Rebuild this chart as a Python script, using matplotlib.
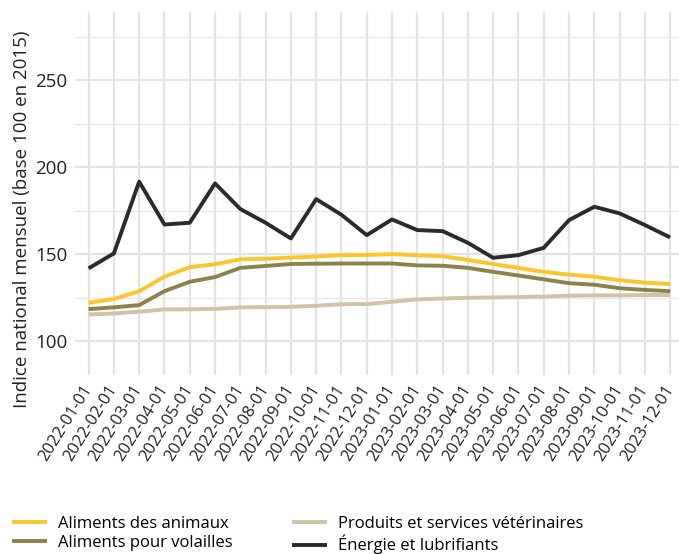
import numpy as np
import matplotlib
matplotlib.use("Agg")
import matplotlib.pyplot as plt

plt.rcParams['font.family'] = ['Open Sans', 'DejaVu Sans']

mois = ['2022-01-01', '2022-02-01', '2022-03-01', '2022-04-01', '2022-05-01', '2022-06-01',
        '2022-07-01', '2022-08-01', '2022-09-01', '2022-10-01', '2022-11-01', '2022-12-01',
        '2023-01-01', '2023-02-01', '2023-03-01', '2023-04-01', '2023-05-01', '2023-06-01',
        '2023-07-01', '2023-08-01', '2023-09-01', '2023-10-01', '2023-11-01', '2023-12-01']

aliments_animaux = [122.0, 124.2, 128.7, 137.0, 142.5, 144.2, 147.0, 147.3, 148.0, 148.6, 149.4, 149.5,
                    150.0, 149.3, 148.8, 146.6, 144.3, 142.0, 139.8, 138.2, 137.0, 135.0, 133.6, 132.8]
aliments_volailles = [118.4, 119.4, 120.7, 128.7, 134.1, 136.8, 142.1, 143.2, 144.3, 144.5, 144.6, 144.6,
                      144.6, 143.5, 143.3, 142.1, 139.8, 137.7, 135.5, 133.3, 132.4, 130.4, 129.4, 128.7]
veterinaires = [115.3, 115.9, 116.9, 118.2, 118.3, 118.5, 119.4, 119.5, 119.7, 120.3, 121.2, 121.3,
                122.6, 124.0, 124.5, 124.9, 125.1, 125.3, 125.6, 126.1, 126.3, 126.3, 126.5, 126.5]
energie = [141.8, 150.4, 191.6, 167.0, 168.0, 190.6, 175.9, 168.0, 159.0, 181.6, 172.6, 160.9,
           169.9, 163.8, 163.2, 156.5, 147.9, 149.4, 153.6, 169.5, 177.2, 173.4, 166.7, 159.6]

series = [
    ('Aliments des animaux', aliments_animaux, '#FBC52B'),
    ('Aliments pour volailles', aliments_volailles, '#8C824C'),
    ('Produits et services vétérinaires', veterinaires, '#D1C2A8'),
    ('Énergie et lubrifiants', energie, '#2B2B2D'),
]

fig = plt.figure(figsize=(6.79, 5.54), dpi=100)
ax = fig.add_axes([0.110, 0.323, 0.890, 0.655])

x = np.arange(len(mois))
for nom, vals, couleur in series:
    ax.plot(x, vals, color=couleur, lw=2.8, label=nom, solid_capstyle='butt', zorder=3)

ax.set_xlim(-0.55, 23.35)
ax.set_ylim(80.5, 289)
ax.set_xticks(x)
ax.set_xticklabels(mois, rotation=58, ha='right', va='center', rotation_mode='anchor',
                   fontsize=12, color='#222222')
ax.set_yticks([100, 150, 200, 250])
ax.set_yticks([125, 175, 225, 275], minor=True)
ax.tick_params(axis='both', which='both', length=0)
ax.tick_params(axis='y', labelsize=13.5, labelcolor='#222222', pad=5)
ax.tick_params(axis='x', pad=8)
ax.grid(True, which='major', color='#E3E3E3', lw=1.6, zorder=0)
ax.grid(True, which='minor', axis='y', color='#E8E8E8', lw=1.0, zorder=0)
for s in ax.spines.values():
    s.set_visible(False)
ax.set_ylabel('Indice national mensuel (base 100 en 2015)', fontsize=13.5, color='#222222', labelpad=3)
ax.yaxis.label.set_y(0.43)

fig.legend(loc='center left', bbox_to_anchor=(12 / 679, 19 / 554), ncol=2, frameon=False,
           fontsize=12, handlelength=2.1, handletextpad=0.65, columnspacing=3.6,
           labelspacing=0.2, borderpad=0, borderaxespad=0)

fig.savefig('out.png', dpi=100)
